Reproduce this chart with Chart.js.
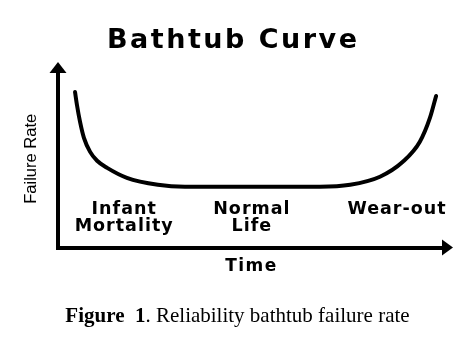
<!DOCTYPE html>
<html>
<head>
<meta charset="utf-8">
<script src="https://cdn.jsdelivr.net/npm/chart.js@4"></script>
<style>
  html, body { margin: 0; padding: 0; background: #fff; }
  #wrap { position: relative; width: 475px; height: 347px; }
  #caption { position: absolute; left: 0; width: 475px; top: 303px; text-align: center;
    font-family: "Liberation Serif", "Times New Roman", serif; font-size: 21px; color: #000; }
</style>
</head>
<body>
<div id="wrap">
  <canvas id="c" width="475" height="347"></canvas>
  <div id="caption"><b>Figure&nbsp; 1</b>. Reliability bathtub failure rate</div>
</div>
<script>
// Time (arbitrary units) and failure rate (arbitrary units)
const timeValues = [4.4, 4.9, 5.7, 6.7, 8.3, 10.1, 12.7, 17.8, 25.8, 32.8, 49.6, 67.7, 75.5, 83.2, 89.1, 93.5, 96.1, 97.7];
const failureRate = [87.6, 80.3, 70.8, 61.8, 53.9, 48.9, 44.9, 39.3, 35.4, 34.3, 34.3, 34.3, 35.4, 39.9, 48.3, 59.6, 73.0, 85.4];
const phaseLabels = [["Infant", "Mortality"], ["Normal", "Life"], ["Wear-out"]];
const phaseTimes = [17.1, 50.1, 87.6];
const phaseLevel = 21.5;

const points = timeValues.map((t, i) => ({ x: t, y: failureRate[i] }));

function withSpacing(obj, fnName, spacing) {
  if (!obj || obj['_sp_' + fnName]) return;
  const orig = obj[fnName];
  obj[fnName] = function (...args) {
    const ctx = this.ctx || (this.chart && this.chart.ctx);
    const prev = ctx.letterSpacing;
    ctx.letterSpacing = spacing;
    const r = orig.apply(this, args);
    ctx.letterSpacing = prev || '0px';
    return r;
  };
  obj['_sp_' + fnName] = true;
}

const decor = {
  id: 'decor',
  beforeDraw(chart) {
    withSpacing(chart.titleBlock, 'draw', '2.5px');
    withSpacing(chart.scales.x, 'drawTitle', '1.5px');
  },
  afterDraw(chart) {
    const ctx = chart.ctx;
    const xs = chart.scales.x, ys = chart.scales.y;
    const a = chart.chartArea;
    ctx.save();
    ctx.fillStyle = '#000';
    ctx.strokeStyle = '#000';
    ctx.lineWidth = 4;
    const x0 = a.left, y0 = a.bottom;
    ctx.beginPath();
    ctx.moveTo(x0, a.top + 1); ctx.lineTo(x0, a.top - 4);
    ctx.moveTo(a.right - 1, y0); ctx.lineTo(a.right + 4, y0);
    ctx.stroke();
    ctx.beginPath();
    ctx.moveTo(x0, a.top - 8);
    ctx.lineTo(x0 - 8.5, a.top + 3);
    ctx.lineTo(x0 + 8.5, a.top + 3);
    ctx.closePath();
    ctx.fill();
    ctx.beginPath();
    ctx.moveTo(a.right + 8, y0);
    ctx.lineTo(a.right - 3, y0 - 8);
    ctx.lineTo(a.right - 3, y0 + 8);
    ctx.closePath();
    ctx.fill();
    // phase labels
    ctx.font = 'bold 17.5px "DejaVu Sans", sans-serif';
    ctx.letterSpacing = '1px';
    ctx.textAlign = 'center';
    ctx.textBaseline = 'middle';
    phaseLabels.forEach((lines, i) => {
      const px = xs.getPixelForValue(phaseTimes[i]);
      const py = ys.getPixelForValue(phaseLevel);
      lines.forEach((ln, j) => ctx.fillText(ln, px, py + j * 17));
    });
    ctx.restore();
  }
};

new Chart(document.getElementById('c'), {
  type: 'line',
  data: {
    datasets: [{
      data: points,
      borderColor: '#000',
      borderWidth: 4,
      borderCapStyle: 'round',
      pointRadius: 0,
      fill: false,
      cubicInterpolationMode: 'monotone'
    }]
  },
  options: {
    responsive: false,
    animation: false,
    layout: { padding: { top: 0, left: 21.5, right: 30, bottom: 68 } },
    plugins: {
      legend: { display: false },
      tooltip: { enabled: false },
      title: {
        display: true,
        text: 'Bathtub Curve',
        color: '#000',
        font: { family: '"DejaVu Sans", sans-serif', size: 27, weight: 'bold' },
        padding: { top: 25, bottom: 12.6 }
      }
    },
    scales: {
      x: {
        type: 'linear', min: 0, max: 100,
        grid: { display: false, drawTicks: false },
        border: { display: true, color: '#000', width: 4 },
        ticks: { display: false },
        title: { display: true, text: 'Time', color: '#000',
          font: { family: '"DejaVu Sans", sans-serif', size: 17, weight: 'bold' },
          padding: { top: 9, bottom: 2 } }
      },
      y: {
        type: 'linear', min: 0, max: 100,
        grid: { display: false, drawTicks: false },
        border: { display: true, color: '#000', width: 4 },
        ticks: { display: false },
        title: { display: true, text: 'Failure Rate', color: '#000',
          font: { family: '"Liberation Sans", Arial, sans-serif', size: 16.5 },
          padding: { top: 0, bottom: 16.7 } }
      }
    }
  },
  plugins: [decor]
});
</script>
</body>
</html>
